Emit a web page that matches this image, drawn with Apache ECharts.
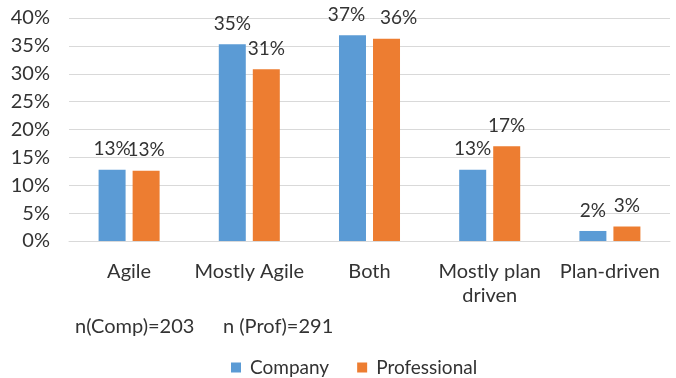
<!DOCTYPE html>
<html>
<head>
<meta charset="utf-8">
<script src="https://cdn.jsdelivr.net/npm/echarts@6/dist/echarts.min.js"></script>
<style>
  html, body { margin: 0; padding: 0; background: #ffffff; }
  #chart { width: 676px; height: 378px; }
</style>
</head>
<body>
<div id="chart"></div>
<script>
// Share of respondents per development approach
const categories = ['Agile', 'Mostly Agile', 'Both', 'Mostly plan\ndriven', 'Plan-driven'];
const companyValues = [12.8, 35.3, 36.9, 12.8, 1.8];
const professionalValues = [12.6, 30.8, 36.3, 17.0, 2.6];
const seriesNames = ['Company', 'Professional'];
const yTicks = { min: 0, max: 40, interval: 5 };
const sampleNotes = ['n(Comp)=203', 'n (Prof)=291'];

const FONT = 'Lato, "Open Sans", sans-serif';
const TEXT = '#333333';

// Horizontal nudges so neighbouring value labels don't collide
const labelNudgeCompany = [0, 0, -6, 0, 0];
const labelNudgeProfessional = [0, 0, 12, 0, 0];

const chart = echarts.init(document.getElementById('chart'));

const barLabel = {
  show: true,
  position: 'top',
  distance: 11,
  color: TEXT,
  fontFamily: FONT,
  fontSize: 19,
  formatter: p => Math.round(p.value) + '%'
};

function withNudges(values, nudges) {
  return values.map((v, i) => ({ value: v, label: { offset: [nudges[i], 0] } }));
}

chart.setOption({
  animation: false,
  backgroundColor: '#ffffff',
  grid: { left: 69, right: 6, top: 18, bottom: 137, containLabel: false },
  legend: {
    data: seriesNames,
    top: 353,
    left: 226,
    itemWidth: 10,
    itemHeight: 10,
    itemGap: 28,
    icon: 'rect',
    textStyle: { color: TEXT, fontFamily: FONT, fontSize: 19, padding: [0, 0, 0, 4] }
  },
  xAxis: {
    type: 'category',
    data: categories,
    axisLine: { show: true, lineStyle: { color: '#d9d9d9', width: 1 } },
    axisTick: { show: false },
    axisLabel: {
      color: TEXT,
      fontFamily: FONT,
      fontSize: 20,
      lineHeight: 24,
      margin: 19,
      interval: 0
    }
  },
  yAxis: {
    type: 'value',
    min: yTicks.min,
    max: yTicks.max,
    interval: yTicks.interval,
    axisLine: { show: false },
    axisTick: { show: false },
    splitLine: { lineStyle: { color: '#d9d9d9', width: 1 } },
    axisLabel: {
      color: TEXT,
      fontFamily: FONT,
      fontSize: 20,
      margin: 19,
      formatter: v => v + '%'
    }
  },
  series: [
    {
      name: seriesNames[0],
      type: 'bar',
      data: withNudges(companyValues, labelNudgeCompany),
      barWidth: 27,
      barGap: '26%',
      itemStyle: { color: '#5B9BD5' },
      label: barLabel
    },
    {
      name: seriesNames[1],
      type: 'bar',
      data: withNudges(professionalValues, labelNudgeProfessional),
      barWidth: 27,
      barGap: '26%',
      itemStyle: { color: '#ED7D31' },
      label: barLabel
    }
  ],
  graphic: [
    {
      type: 'text',
      left: 75,
      top: 317,
      style: { text: sampleNotes[0], fill: TEXT, font: '20px ' + FONT }
    },
    {
      type: 'text',
      left: 223,
      top: 317,
      style: { text: sampleNotes[1], fill: TEXT, font: '20px ' + FONT }
    }
  ]
});
</script>
</body>
</html>
